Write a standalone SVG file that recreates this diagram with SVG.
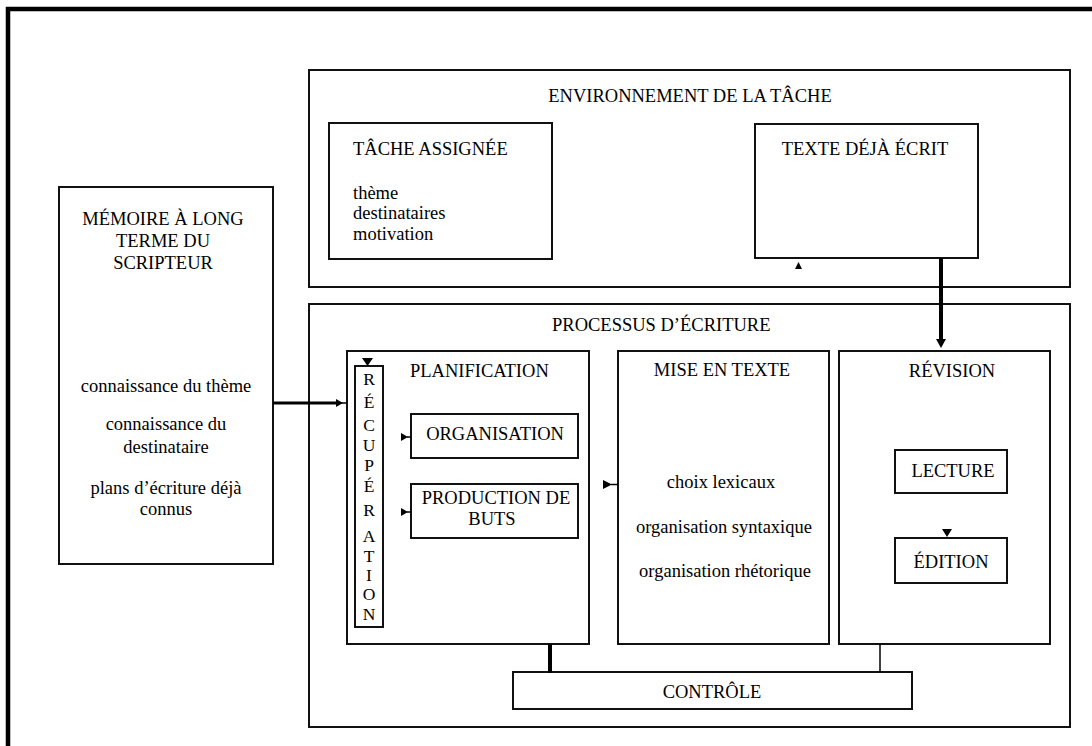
<svg xmlns="http://www.w3.org/2000/svg" width="1092" height="746" viewBox="0 0 1092 746">
<style>
.box{fill:none;stroke:#111;stroke-width:2}
.t{font-family:"Liberation Serif","Times New Roman",serif;font-size:18.5px;fill:#000}
.m{text-anchor:middle}
.r{font-family:"Liberation Serif","Times New Roman",serif;font-size:17.5px;fill:#000;text-anchor:middle}
.ln{stroke:#000;fill:none}
.ah{fill:#000;stroke:none}
</style>
<rect width="1092" height="746" fill="#fff"/>
<path d="M8,746 L8,9 L1092,9" fill="none" stroke="#000" stroke-width="4.5"/>

<g id="environnement">
<rect class="box" x="309" y="70" width="761" height="217"/>
<text class="t m" x="690" y="102">ENVIRONNEMENT DE LA TÂCHE</text>
</g>
<g id="tache-assignee">
<rect class="box" x="329" y="123" width="223" height="136"/>
<text class="t" x="353" y="155">TÂCHE ASSIGNÉE</text>
<text class="t" x="353" y="199">thème</text>
<text class="t" x="353" y="219">destinataires</text>
<text class="t" x="353" y="240">motivation</text>
</g>
<g id="texte-deja-ecrit">
<rect class="box" x="755" y="124" width="223" height="134"/>
<text class="t m" x="865" y="155">TEXTE DÉJÀ ÉCRIT</text>
</g>
<g id="memoire">
<rect class="box" x="59" y="187" width="214" height="377"/>
<text class="t m" x="163" y="225">MÉMOIRE À LONG</text>
<text class="t m" x="163" y="247">TERME DU</text>
<text class="t m" x="163" y="269">SCRIPTEUR</text>
<text class="t m" x="166" y="392">connaissance du thème</text>
<text class="t m" x="166" y="430">connaissance du</text>
<text class="t m" x="166" y="453">destinataire</text>
<text class="t m" x="166" y="494">plans d’écriture déjà</text>
<text class="t m" x="166" y="515">connus</text>
</g>
<g id="processus">
<rect class="box" x="309" y="304" width="761" height="423"/>
<text class="t" x="552" y="331">PROCESSUS D’ÉCRITURE</text>
</g>
<g id="planification">
<rect class="box" x="347" y="351" width="242" height="293"/>
<text class="t" x="410" y="377">PLANIFICATION</text>
</g>
<g id="recuperation">
<rect class="box" x="355" y="366" width="28" height="261"/>
<text class="r" x="369" y="385">R</text>
<text class="r" x="369" y="408">É</text>
<text class="r" x="369" y="431">C</text>
<text class="r" x="369" y="451">U</text>
<text class="r" x="369" y="471">P</text>
<text class="r" x="369" y="492">É</text>
<text class="r" x="369" y="516">R</text>
<text class="r" x="369" y="542">A</text>
<text class="r" x="369" y="562">T</text>
<text class="r" x="369" y="581">I</text>
<text class="r" x="369" y="600">O</text>
<text class="r" x="369" y="620">N</text>
</g>
<g id="organisation">
<rect class="box" x="411" y="414" width="167" height="44"/>
<text class="t m" x="495" y="440">ORGANISATION</text>
</g>
<g id="production-de-buts">
<rect class="box" x="411" y="484" width="167" height="54"/>
<text class="t m" x="496" y="504">PRODUCTION DE</text>
<text class="t m" x="492" y="525">BUTS</text>
</g>
<g id="mise-en-texte">
<rect class="box" x="618" y="351" width="211" height="293"/>
<text class="t m" x="722" y="376">MISE EN TEXTE</text>
<text class="t m" x="721" y="488">choix lexicaux</text>
<text class="t m" x="724" y="533">organisation syntaxique</text>
<text class="t m" x="725" y="577">organisation rhétorique</text>
</g>
<g id="revision">
<rect class="box" x="839" y="351" width="211" height="293"/>
<text class="t m" x="952" y="377">RÉVISION</text>
</g>
<g id="lecture">
<rect class="box" x="895" y="450" width="112" height="43"/>
<text class="t m" x="953" y="477">LECTURE</text>
</g>
<g id="edition">
<rect class="box" x="895" y="538" width="112" height="45"/>
<text class="t m" x="951" y="568">ÉDITION</text>
</g>
<g id="controle">
<rect class="box" x="513" y="672" width="399" height="37"/>
<text class="t m" x="712" y="698">CONTRÔLE</text>
</g>

<g id="connectors">
<line class="ln" x1="273" y1="403" x2="338" y2="403" stroke-width="3"/>
<line class="ln" x1="338" y1="403" x2="347" y2="403" stroke-width="1.5"/>
<path class="ah" d="M336,399 L343,403 L336,407 Z"/>
<line class="ln" x1="941" y1="258" x2="941" y2="340" stroke-width="4"/>
<path class="ah" d="M936,339 L946,339 L941,348 Z"/>
<path class="ah" d="M362,358 L373,358 L367.5,366 Z"/>
<path class="ah" d="M401,433 L408,437 L401,441 Z"/>
<line class="ln" x1="407" y1="437" x2="411" y2="437" stroke-width="1.5"/>
<path class="ah" d="M401,508 L408,512 L401,516 Z"/>
<line class="ln" x1="407" y1="512" x2="411" y2="512" stroke-width="1.5"/>
<path class="ah" d="M603,480 L612,484.5 L603,489 Z"/>
<line class="ln" x1="611" y1="484.5" x2="618" y2="484.5" stroke-width="1.5"/>
<path class="ah" d="M942,529 L952,529 L947,537 Z"/>
<path class="ah" d="M795,269 L802,269 L798.5,262 Z"/>
<line class="ln" x1="550" y1="644" x2="550" y2="673" stroke-width="4"/>
<line class="ln" x1="880" y1="644" x2="880" y2="672" stroke-width="1.5"/>
</g>
</svg>
